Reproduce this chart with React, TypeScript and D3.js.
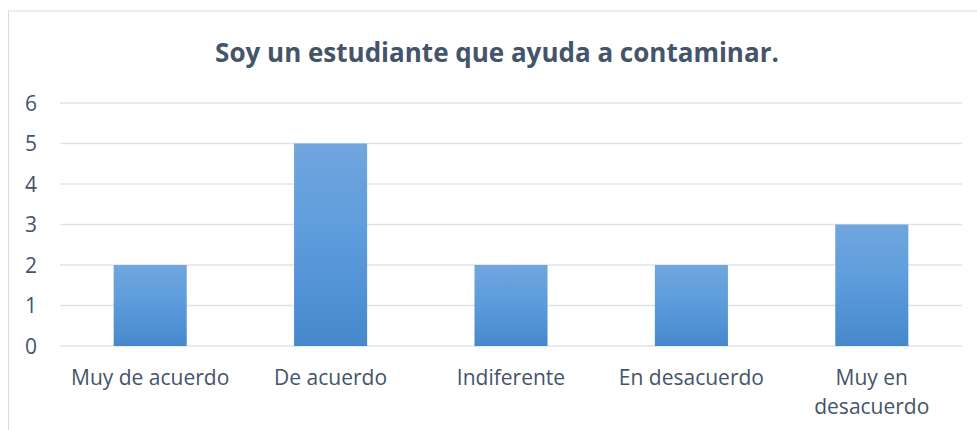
import React from "react";
import * as d3 from "d3";

const categories = ["Muy de acuerdo", "De acuerdo", "Indiferente", "En desacuerdo", "Muy en desacuerdo"];
const values = [2, 5, 2, 2, 3];
const yTicks = [0, 1, 2, 3, 4, 5, 6];
const title = "Soy un estudiante que ayuda a contaminar.";
const labelLines: Record<string, string[]> = {
  "Muy en desacuerdo": ["Muy en", "desacuerdo"],
};

const W = 977;
const H = 430;
const textColor = "#44546A";
const font = "'Open Sans', sans-serif";

export default function App() {
  const x = d3.scaleBand<string>().domain(categories).range([60, 962]).paddingInner(0.595).paddingOuter(0.2975);
  const y = d3.scaleLinear().domain([0, 6]).range([346, 103]);
  return (
    <svg width={W} height={H} style={{ position: "absolute", left: 0, top: 0 }}>
      <defs>
        <linearGradient id="barGrad" x1="0" y1="0" x2="0" y2="1">
          <stop offset="0%" stopColor="#70A6DE" />
          <stop offset="50%" stopColor="#5B9BDC" />
          <stop offset="100%" stopColor="#4688CB" />
        </linearGradient>
      </defs>
      <rect x={0} y={0} width={W} height={H} fill="#fff" />
      <rect x={8.5} y={11} width={975} height={430} fill="#fff" stroke="#D9D9D9" strokeWidth={1} />
      <text x={497} y={62} textAnchor="middle" fontFamily={font} fontWeight={700} fontSize={26} fill={textColor}>
        {title}
      </text>
      {yTicks.map((t) => (
        <g key={t}>
          <line x1={60} x2={962} y1={y(t)} y2={y(t)} stroke="#DFE3E9" strokeWidth={1.5} />
          <text x={31} y={y(t)} dy="0.36em" textAnchor="middle" fontFamily={font} fontSize={21} fill={textColor}>
            {t}
          </text>
        </g>
      ))}
      {categories.map((c, i) => (
        <rect key={c} x={x(c)} y={y(values[i])} width={x.bandwidth()} height={y(0) - y(values[i])} fill="url(#barGrad)" />
      ))}
      {categories.map((c) => {
        const lines = labelLines[c] || [c];
        const cx = (x(c) as number) + x.bandwidth() / 2;
        return (
          <text key={c} x={cx} y={385} textAnchor="middle" fontFamily={font} fontSize={21} fill={textColor}>
            {lines.map((l, j) => (
              <tspan key={j} x={cx} dy={j === 0 ? 0 : 29}>
                {l}
              </tspan>
            ))}
          </text>
        );
      })}
    </svg>
  );
}
